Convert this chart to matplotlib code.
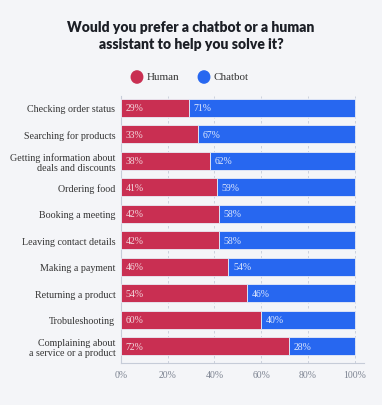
import numpy as np
import matplotlib.pyplot as plt

# datos
tareas = ["Checking order status", "Searching for products",
          "Getting information about\ndeals and discounts", "Ordering food",
          "Booking a meeting", "Leaving contact details", "Making a payment",
          "Returning a product", "Trobuleshooting",
          "Complaining about\na service or a product"]
humano = [29, 33, 38, 41, 42, 42, 46, 54, 60, 72]
chatbot = [71, 67, 62, 59, 58, 58, 54, 46, 40, 28]
ticks = [0, 20, 40, 60, 80, 100]

rojo = "#c92f52"
azul = "#2767f0"
fondo = "#f4f5f8"
serif = "Liberation Serif"

fig = plt.figure(figsize=(3.82, 4.06), dpi=100, facecolor=fondo)
ax = fig.add_axes([121 / 382, 1 - 364 / 406, 243 / 382, 267 / 406], facecolor=fondo)

y = np.arange(len(tareas))
ax.barh(y, humano, height=0.68, color=rojo, edgecolor="#e8ecf6", linewidth=0.6, zorder=3)
ax.barh(y, chatbot, left=humano, height=0.68, color=azul, edgecolor="#e8ecf6", linewidth=0.6, zorder=3)

for i in range(len(tareas)):
    ax.text(2, y[i], f"{humano[i]}%", color="#f3d9df", va="center", ha="left",
            fontsize=7, family=serif, zorder=4)
    ax.text(humano[i] + 2, y[i], f"{chatbot[i]}%", color="#dfe8fd", va="center", ha="left",
            fontsize=7, family=serif, zorder=4)

ax.set_xlim(0, 104)
ax.set_ylim(9.64, -0.45)
ax.set_yticks(y)
ax.set_yticklabels(tareas, family=serif, fontsize=7.2, color="#333333", linespacing=1.15)
ax.set_xticks(ticks)
ax.set_xticklabels([f"{t}%" for t in ticks], family=serif, fontsize=7, color="#7c8391")
ax.tick_params(length=0, pad=4)
ax.tick_params(axis="x", pad=5)
ax.grid(axis="x", color="#c6ccd8", linestyle=(0, (3, 3)), linewidth=0.6, zorder=0)
for s in ["top", "right"]:
    ax.spines[s].set_visible(False)
ax.spines["left"].set_color("#c6ccd8")
ax.spines["bottom"].set_color("#c6ccd8")

# titulo y leyenda
fig.text(0.5, 1 - 36 / 406, "Would you prefer a chatbot or a human\nassistant to help you solve it?",
         ha="center", va="center", fontsize=10, fontweight="heavy", family="Lato",
         color="#1c1f26", linespacing=1.45)
fig.patches.append(plt.Circle((137 / 382, 1 - 78 / 406), 0.015, color=rojo,
                              transform=fig.transFigure, figure=fig))
fig.patches.append(plt.Circle((204 / 382, 1 - 78 / 406), 0.015, color=azul,
                              transform=fig.transFigure, figure=fig))
fig.text(147 / 382, 1 - 78 / 406, "Human", va="center", fontsize=8, family=serif, color="#333333")
fig.text(214 / 382, 1 - 78 / 406, "Chatbot", va="center", fontsize=8, family=serif, color="#333333")

plt.savefig("out.png", dpi=100, facecolor=fondo)
